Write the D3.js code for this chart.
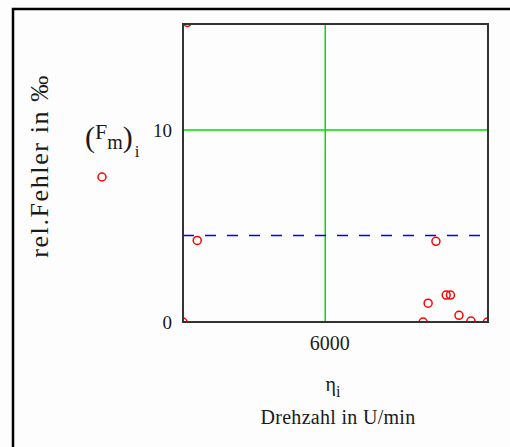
<!DOCTYPE html>
<html><head><meta charset="utf-8">
<script src="https://cdn.jsdelivr.net/npm/d3@7"></script>
<style>body{margin:0;background:#fff}svg{display:block}</style>
</head><body><div id="c"></div>
<script>
const speedValues = [1150, 1000, 1500, 9440, 9615, 9890, 10250, 10400, 10700, 11120, 11700];
const errorValues = [15.6, 0.0, 4.25, 0.0, 0.98, 4.2, 1.4, 1.4, 0.35, 0.05, 0.0];
const meanError = 4.5;
const xTickValues = [6000];
const yTickValues = [0, 10];
const xDomain = [1000, 11720];
const yDomain = [0, 15.52];

const W = 510, H = 447;
const svg = d3.select("#c").append("svg").attr("width", W).attr("height", H);
svg.append("rect").attr("width", W).attr("height", H).attr("fill", "#fdfdfd");
// outer frame
svg.append("path").attr("d", `M13,${H+5} L13,9 L${W+5},9`).attr("fill", "none").attr("stroke", "#000").attr("stroke-width", 2.5);

const L = 183, R = 488, T = 24, B = 322;
const x = d3.scaleLinear().domain(xDomain).range([L, R]);
const y = d3.scaleLinear().domain(yDomain).range([B, T]);
const font = "'Liberation Serif', serif";
const ink = "#1a1a1a";

svg.append("defs").append("clipPath").attr("id", "clip")
  .append("rect").attr("x", L).attr("y", T).attr("width", R - L).attr("height", B - T);

// grid
const g = svg.append("g").attr("clip-path", "url(#clip)");
g.selectAll(".vg").data(xTickValues).join("line")
  .attr("x1", d => x(d)).attr("x2", d => x(d)).attr("y1", T).attr("y2", B)
  .attr("stroke", "#00dd00").attr("stroke-width", 1.5);
g.selectAll(".hg").data(yTickValues.filter(d => d > 0)).join("line")
  .attr("x1", L).attr("x2", R).attr("y1", d => y(d)).attr("y2", d => y(d))
  .attr("stroke", "#00dd00").attr("stroke-width", 1.5);
// mean marker line
g.append("line").attr("x1", L).attr("x2", R).attr("y1", y(meanError)).attr("y2", y(meanError))
  .attr("stroke", "#0000ff").attr("stroke-width", 1.5).attr("stroke-dasharray", "11,11");
// points
g.selectAll("circle").data(speedValues.map((s, i) => [s, errorValues[i]])).join("circle")
  .attr("cx", d => x(d[0])).attr("cy", d => y(d[1])).attr("r", 4)
  .attr("fill", "none").attr("stroke", "#ff0000").attr("stroke-width", 1.5);

// plot frame
svg.append("rect").attr("x", L).attr("y", T).attr("width", R - L).attr("height", B - T)
  .attr("fill", "none").attr("stroke", "#333").attr("stroke-width", 2);

// axes (labels only)
const yAxis = d3.axisLeft(y).tickValues(yTickValues).tickSize(0).tickPadding(11).tickFormat(d3.format("d"));
const ya = svg.append("g").attr("transform", `translate(${L},0)`).call(yAxis);
ya.select(".domain").remove();
ya.selectAll("text").attr("font-family", font).attr("font-size", 19).attr("fill", ink);
const xAxis = d3.axisBottom(x).tickValues(xTickValues).tickSize(0).tickPadding(14).tickFormat(d3.format("d"));
const xa = svg.append("g").attr("transform", `translate(0,${B})`).call(xAxis);
xa.select(".domain").remove();
xa.selectAll("text").attr("font-family", font).attr("font-size", 20).attr("fill", ink).attr("dx", 4);

// y-axis titles
svg.append("text").attr("transform", "translate(48,166) rotate(-90)").attr("text-anchor", "middle")
  .attr("font-family", font).attr("font-size", 26).attr("letter-spacing", 1.6).attr("fill", ink).text("rel.Fehler in ‰");
const fm = svg.append("text").attr("x", 85).attr("y", 147).attr("font-family", font).attr("font-size", 22).attr("fill", ink);
fm.append("tspan").attr("font-size", 30).attr("dy", 0).text("(");
fm.append("tspan").attr("dy", -8).text("F");
fm.append("tspan").attr("font-size", 20).attr("dy", 10).text("m");
fm.append("tspan").attr("font-size", 30).attr("dy", -2).text(")");
fm.append("tspan").attr("font-size", 17).attr("dy", 10).attr("dx", 2).text("i");
// legend marker
svg.append("circle").attr("cx", 102).attr("cy", 177).attr("r", 4)
  .attr("fill", "none").attr("stroke", "#ff0000").attr("stroke-width", 1.5);

// x-axis titles
const eta = svg.append("text").attr("x", 333).attr("y", 391).attr("text-anchor", "middle")
  .attr("font-family", font).attr("font-size", 20).attr("fill", ink);
eta.append("tspan").text("η");
eta.append("tspan").attr("font-size", 16).attr("dy", 6).text("i");
svg.append("text").attr("x", 338).attr("y", 424).attr("text-anchor", "middle")
  .attr("font-family", font).attr("font-size", 20).attr("letter-spacing", 0.3).attr("fill", ink).text("Drehzahl in U/min");
</script></body></html>
